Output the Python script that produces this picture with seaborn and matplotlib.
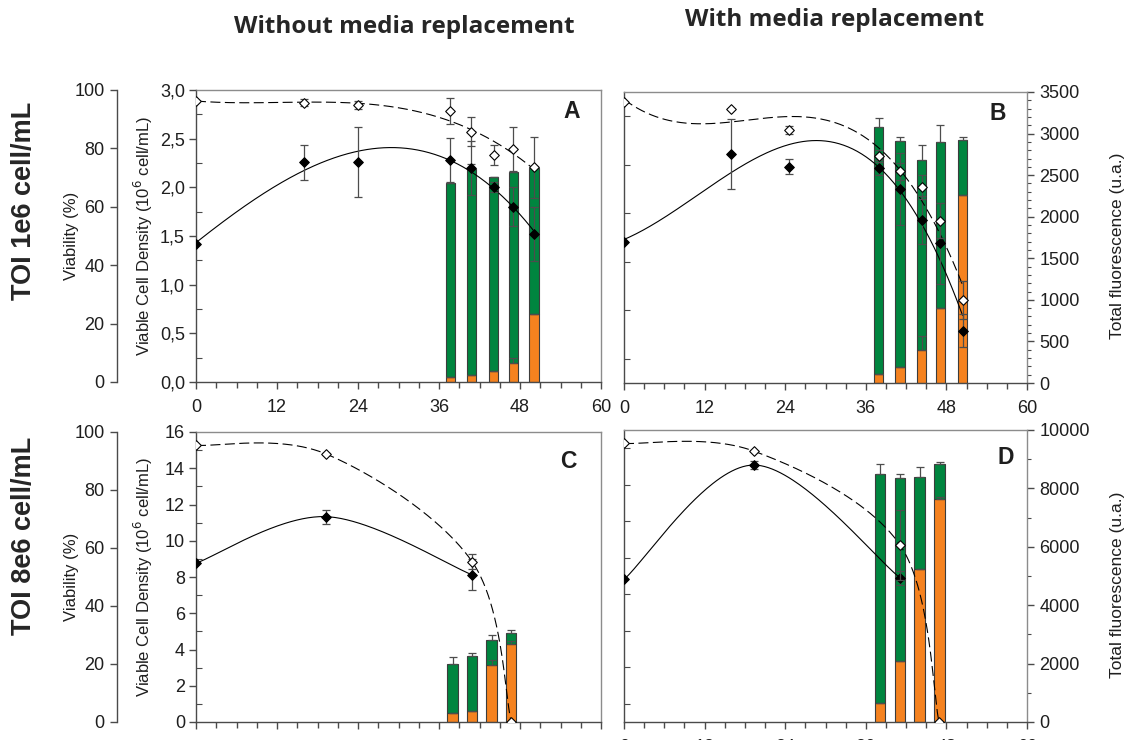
import numpy as np
import matplotlib
matplotlib.use("Agg")
import matplotlib.pyplot as plt
import seaborn as sns
from matplotlib.ticker import MultipleLocator, FuncFormatter, NullLocator

# ---------------- data ----------------
# Panel A: TOI 1e6, without media replacement
t_A = [0, 16, 24, 37.7, 40.8, 44.1, 47, 50.1]
vcd_A = [1.42, 2.26, 2.26, 2.28, 2.20, 2.00, 1.80, 1.52]
vcd_A_err = [0, 0.18, 0.36, 0.23, 0.28, 0.05, 0.20, 0.28]
via_A = [96.3, 95.7, 94.9, 92.9, 85.7, 77.8, 79.9, 73.5]
via_A_err = [0, 1.2, 1.3, 4.5, 5.0, 3.5, 7.5, 10.5]
tb_A = [37.7, 40.8, 44.1, 47, 50.1]
total_A = [2390, 2550, 2460, 2515, 2570]
total_A_err = [0, 60, 0, 0, 0]
orange_A = [60, 80, 130, 230, 820]
orange_A_err = [0, 0, 0, 60, 0]

# Panel B: TOI 1e6, with media replacement
t_B = [0, 16, 24.6, 37.9, 41.1, 44.3, 47.1, 50.4]
vcd_B = [1.45, 2.36, 2.23, 2.22, 2.00, 1.68, 1.44, 0.54]
vcd_B_err = [0, 0.36, 0.08, 0.08, 0.37, 0.25, 0.42, 0.17]
via_B = [96.7, 94.1, 87.0, 78.0, 72.7, 67.4, 55.8, 28.5]
via_B_err = [0, 0, 1.3, 2.0, 3.0, 4.0, 6.0, 6.5]
tb_B = [37.9, 41.1, 44.3, 47.1, 50.4]
total_B = [3085, 2915, 2685, 2900, 2925]
total_B_err = [100, 48, 180, 208, 32]
orange_B = [110, 190, 400, 905, 2265]
orange_B_err = [0, 0, 160, 0, 0]

# Panel C: TOI 8e6, without media replacement
t_C = [0, 19.3, 40.9]
vcd_C = [8.76, 11.33, 8.12]
vcd_C_err = [0, 0.39, 0.85]
tv_C = [0, 19.3, 40.9, 46.7]
via_C = [95.4, 92.4, 55.3, 0]
via_C_err = [0, 0.5, 2.5, 0]
tb_C = [38.0, 40.9, 43.8, 46.7]
total_C = [2005, 2280, 2840, 3070]
total_C_err = [230, 90, 160, 90]
orange_C = [310, 390, 1950, 2690]
orange_C_err = [0, 0, 200, 90]

# Panel D: TOI 8e6, with media replacement
t_D = [0, 19.3, 41.1]
vcd_D = [7.81, 14.08, 7.90]
vcd_D_err = [0, 0.2, 0.4]
tv_D = [0, 19.3, 41.1, 46.9]
via_D = [95.4, 92.8, 60.6, 0]
via_D_err = [0, 0, 12, 0]
tb_D = [38.1, 41.1, 44.0, 47.0]
total_D = [8480, 8355, 8390, 8825]
total_D_err = [355, 125, 330, 90]
orange_D = [665, 2105, 5235, 7645]
orange_D_err = [0, 0, 0, 60]

col_titles = ["Without media replacement", "With media replacement"]
row_titles = ["TOI 1e6 cell/mL", "TOI 8e6 cell/mL"]

# ---------------- style ----------------
sns.set_theme(style="white")
plt.rcParams['font.family'] = ['Liberation Sans', 'DejaVu Sans']

GREEN = "#00853f"
ORANGE = "#f5821f"
EDGE = "#3c3c3c"
ERR = "#4d4d4d"
DARK = "#4a4a4a"
LIGHT = "#8c8c8c"
TXT = "#1e1e1e"

W, H = 1129, 740
fig = plt.figure(figsize=(W / 100, H / 100), dpi=100)


def box(x0, y0, x1, y1):
    return [x0 / W, 1 - y1 / H, (x1 - x0) / W, (y1 - y0) / H]


def polytrend(t, y, deg):
    """Least-squares polynomial trend line over the sampled time range."""
    coef = np.polyfit(t, y, deg)
    xs = np.linspace(min(t), max(t), 300)
    return xs, np.polyval(coef, xs)


def smoothline(t, y, ymax, wpx, hpx, n=80):
    """Bezier-smoothed line through every point (screen-proportional)."""
    P = np.column_stack([np.asarray(t, float) / 60 * wpx,
                         np.asarray(y, float) / ymax * hpx])
    segs = []
    s = np.linspace(0, 1, n)[:, None]
    for i in range(len(P) - 1):
        p0, p1 = P[i], P[i + 1]
        pm = P[i - 1] if i > 0 else P[i]
        pp = P[i + 2] if i + 2 < len(P) else P[i + 1]
        c1 = p0 + (p1 - pm) / 6
        c2 = p1 - (pp - p0) / 6
        seg = ((1 - s) ** 3) * p0 + 3 * ((1 - s) ** 2) * s * c1 \
            + 3 * (1 - s) * (s ** 2) * c2 + (s ** 3) * p1
        segs.append(seg if i == 0 else seg[1:])
    Q = np.vstack(segs)
    return Q[:, 0] / wpx * 60, Q[:, 1] / hpx * ymax


def curve(ax, xs, ys, dashed):
    sns.lineplot(x=xs, y=ys, ax=ax, color="black", lw=0.8,
                 linestyle=(0, (9, 4)) if dashed else "-",
                 estimator=None, sort=False, zorder=2)


def points(ax, t, y, err, filled):
    ax.errorbar(t, y, yerr=err, fmt="none", ecolor=ERR, elinewidth=0.9,
                capsize=3.2, capthick=0.9, zorder=3)
    sns.scatterplot(x=t, y=y, ax=ax, marker="D", s=24,
                    color="black" if filled else "white",
                    edgecolor="black", linewidth=0.8, zorder=4)


def panel(px, t, vcd, vcd_err, tv, via, via_err, tb, total, total_err,
          orange, orange_err, vcd_max, vcd_step, fl_max, fl_major, fl_minor,
          fit, letter, left_axes, right_axis, x_labels, vcd_fmt, bar_w):
    axf = fig.add_axes(box(*px))
    axv = axf.twinx()
    axp = axf.twinx()
    wpx, hpx = px[2] - px[0], px[3] - px[1]

    # stacked fluorescence bars
    total = np.asarray(total, float)
    orange = np.asarray(orange, float)
    axf.bar(tb, orange, width=bar_w, color=ORANGE, edgecolor=EDGE, lw=0.8, zorder=2)
    axf.bar(tb, total - orange, bottom=orange, width=bar_w, color=GREEN,
            edgecolor=EDGE, lw=0.8, zorder=2)
    z = np.zeros(len(tb))
    axf.errorbar(tb, total, yerr=[z, total_err], fmt="none", ecolor=ERR,
                 elinewidth=0.9, capsize=3.2, capthick=0.9, zorder=3)
    axf.errorbar(tb, orange, yerr=[z, orange_err], fmt="none", ecolor=ERR,
                 elinewidth=0.9, capsize=3.2, capthick=0.9, zorder=3)
    axf.set_xlim(0, 60)
    axf.set_ylim(0, fl_max)

    # viable cell density (filled) and viability (open)
    if fit == "poly":
        cv = polytrend(t, vcd, 3)
        cp = polytrend(tv, via, 3)
    else:
        cv = smoothline(t, vcd, vcd_max, wpx, hpx)
        cp = smoothline(tv, via, 100, wpx, hpx)
    curve(axv, *cv, False)
    points(axv, t, vcd, vcd_err, True)
    axv.set_ylim(0, vcd_max)
    curve(axp, *cp, True)
    points(axp, tv, via, via_err, False)
    axp.set_ylim(0, 100)
    for a in (axv, axp):
        a.set_xlim(0, 60)
        a.set_xlabel("")
        a.set_ylabel("")

    # frame
    for s in ("top", "right"):
        axf.spines[s].set_color(LIGHT)
    for s in ("left", "bottom"):
        axf.spines[s].set_color(DARK)
    for s in axf.spines.values():
        s.set_linewidth(1.0)
    for a in (axv, axp):
        for s in a.spines.values():
            s.set_visible(False)

    # x axis
    axf.xaxis.set_major_locator(MultipleLocator(12))
    axf.xaxis.set_minor_locator(MultipleLocator(3))
    axf.tick_params(axis="x", which="major", direction="out", length=5,
                    width=1, color=DARK, labelsize=13, labelcolor=TXT, pad=7.5,
                    bottom=True, labelbottom=x_labels)
    axf.tick_params(axis="x", which="minor", direction="out", length=4,
                    width=1, color=DARK, bottom=True)

    # fluorescence axis on the right
    axf.yaxis.tick_right()
    axf.yaxis.set_label_position("right")
    if right_axis:
        axf.yaxis.set_major_locator(MultipleLocator(fl_major))
        axf.yaxis.set_minor_locator(MultipleLocator(fl_minor))
        axf.tick_params(axis="y", which="major", direction="out", length=5,
                        width=1, color=DARK, labelsize=13, labelcolor=TXT,
                        right=True, left=False, pad=4)
        axf.tick_params(axis="y", which="minor", direction="out", length=3,
                        width=0.8, color=DARK, right=True, left=False)
        axf.set_ylabel("Total fluorescence (u.a.)", fontsize=12.5, color=TXT)
        axf.yaxis.set_label_coords(1.205, 0.47)
    else:
        axf.yaxis.set_major_locator(NullLocator())
        axf.yaxis.set_minor_locator(NullLocator())

    # density axis on the left spine
    axv.yaxis.tick_left()
    axv.yaxis.set_label_position("left")
    axv.yaxis.set_major_locator(MultipleLocator(vcd_step))
    axv.yaxis.set_minor_locator(MultipleLocator(vcd_step / 2))
    if left_axes:
        axv.yaxis.set_major_formatter(FuncFormatter(vcd_fmt))
        axv.tick_params(axis="y", which="major", direction="out", length=5,
                        width=1, color=DARK, labelsize=13, labelcolor=TXT,
                        left=True, right=False, pad=3)
        axv.set_ylabel("Viable Cell Density (10$^{6}$ cell/mL)", fontsize=12,
                       color=TXT)
        axv.yaxis.set_label_coords(-0.101, 0.5)
    else:
        axv.tick_params(axis="y", which="major", length=0, labelleft=False,
                        left=False, right=False)
    axv.tick_params(axis="y", which="minor", direction="in", length=4,
                    width=0.8, color=DARK, left=True, right=False)

    # viability axis, offset to the left
    if left_axes:
        sp = axp.spines["left"]
        sp.set_visible(True)
        sp.set_position(("axes", -0.195))
        sp.set_color(DARK)
        sp.set_linewidth(1.0)
        axp.yaxis.tick_left()
        axp.yaxis.set_label_position("left")
        axp.yaxis.set_major_locator(MultipleLocator(20))
        axp.tick_params(axis="y", which="major", direction="out", length=5,
                        width=1, color=DARK, labelsize=13, labelcolor=TXT,
                        left=True, right=False, pad=4)
        axp.set_ylabel("Viability (%)", fontsize=12, color=TXT)
        axp.yaxis.set_label_coords(-0.29, 0.5)
    else:
        axp.yaxis.set_major_locator(NullLocator())
        axp.tick_params(axis="y", which="both", left=False, right=False,
                        labelleft=False, labelright=False)

    axp.text(letter[1], letter[2], letter[0], transform=axp.transAxes,
             fontsize=16.5, fontweight="bold", ha="center", va="center",
             color=TXT)
    return axf


comma1 = lambda v, pos: f"{v:.1f}".replace(".", ",")
integer = lambda v, pos: f"{v:.0f}"

panel((196, 90, 601, 382), t_A, vcd_A, vcd_A_err, t_A, via_A, via_A_err,
      tb_A, total_A, total_A_err, orange_A, orange_A_err,
      3.0, 0.5, 3500, 500, 100, "poly", ("A", 0.928, 0.925),
      True, False, True, comma1, 1.4)
panel((624, 92, 1027, 383), t_B, vcd_B, vcd_B_err, t_B, via_B, via_B_err,
      tb_B, total_B, total_B_err, orange_B, orange_B_err,
      3.0, 0.5, 3500, 500, 100, "poly", ("B", 0.928, 0.925),
      False, True, True, comma1, 1.4)
panel((196, 432, 601, 722), t_C, vcd_C, vcd_C_err, tv_C, via_C, via_C_err,
      tb_C, total_C, total_C_err, orange_C, orange_C_err,
      16, 2, 10000, 2000, 1000, "smooth", ("C", 0.92, 0.90),
      True, False, False, integer, 1.55)
panel((624, 430, 1027, 722), t_D, vcd_D, vcd_D_err, tv_D, via_D, via_D_err,
      tb_D, total_D, total_D_err, orange_D, orange_D_err,
      16, 2, 10000, 2000, 1000, "smooth", ("D", 0.947, 0.905),
      False, True, True, integer, 1.55)

# column and row headings
fig.text(404 / W, 1 - 27 / H, col_titles[0], ha="center", va="center",
         fontsize=17.5, fontweight="bold", family=["Open Sans", "DejaVu Sans"])
fig.text(835 / W, 1 - 20 / H, col_titles[1], ha="center", va="center",
         fontsize=17.5, fontweight="bold", family=["Open Sans", "DejaVu Sans"])
fig.text(24 / W, 1 - 201 / H, row_titles[0], ha="center", va="center",
         rotation=90, fontsize=19.5, fontweight="bold")
fig.text(24 / W, 1 - 536 / H, row_titles[1], ha="center", va="center",
         rotation=90, fontsize=19.5, fontweight="bold")

fig.savefig("out.png", dpi=100)
